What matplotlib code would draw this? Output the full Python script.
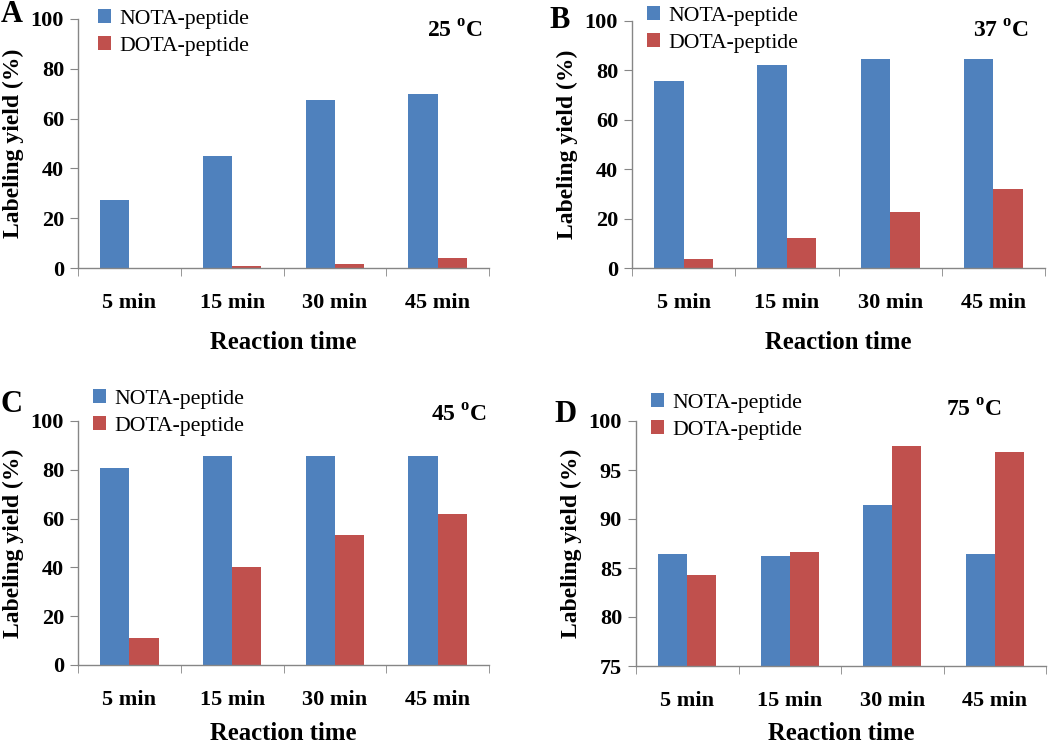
import numpy as np
import matplotlib.pyplot as plt

plt.rcParams['font.family'] = 'Liberation Serif'
plt.rcParams['mathtext.fontset'] = 'custom'
plt.rcParams['mathtext.rm'] = 'Liberation Serif:bold'

W, H = 1050, 746

times = ['5 min', '15 min', '30 min', '45 min']
temps = ['25', '37', '45', '75']
letters = ['A', 'B', 'C', 'D']

nota_25 = [27.3, 44.9, 67.6, 69.8]
dota_25 = [0.0, 0.7, 1.6, 3.9]
nota_37 = [75.7, 82.2, 84.8, 84.5]
dota_37 = [3.8, 12.1, 22.6, 32.1]
nota_45 = [80.7, 85.5, 85.8, 85.8]
dota_45 = [11.1, 40.2, 53.4, 62.0]
nota_75 = [86.4, 86.2, 91.45, 86.4]
dota_75 = [84.3, 86.6, 97.4, 96.85]

blue = '#4F81BD'
red = '#C0504D'
axis_grey = '#868686'


def px(x, y):
    return x / W, 1 - y / H


def rect(left, right, top, bottom):
    return [left / W, 1 - bottom / H, (right - left) / W, (bottom - top) / H]


panels = [
    # letter, temp, nota, dota, ylim, yticks, axes rect, letter xy, temp xy (right), legend xy, xlabel pad
    (letters[0], temps[0], nota_25, dota_25, (0, 100), np.arange(0, 101, 20),
     rect(78, 489, 19, 268), (1, 14), (483, 32), (98, 9), 13),
    (letters[1], temps[1], nota_37, dota_37, (0, 100), np.arange(0, 101, 20),
     rect(632, 1045, 21, 268), (549, 20), (1029, 32), (647, 6), 13),
    (letters[2], temps[2], nota_45, dota_45, (0, 100), np.arange(0, 101, 20),
     rect(78, 489, 421, 665), (1, 404), (487, 416), (93, 389), 9),
    (letters[3], temps[3], nota_75, dota_75, (75, 100), np.arange(75, 101, 5),
     rect(636, 1046, 421, 666), (554, 414), (1002, 411), (651, 393), 8),
]

fig = plt.figure(figsize=(W / 100, H / 100), dpi=100)

x = np.arange(len(times))
bw = 0.285

for letter, temp, nota, dota, ylim, yticks, r, lxy, txy, gxy, xpad in panels:
    ax = fig.add_axes(r)
    b1 = ax.bar(x - bw / 2, np.array(nota) - ylim[0], bw, bottom=ylim[0], color=blue,
                label='NOTA-peptide')
    b2 = ax.bar(x + bw / 2, np.array(dota) - ylim[0], bw, bottom=ylim[0], color=red,
                label='DOTA-peptide')
    ax.set_xlim(-0.5, len(times) - 0.5)
    ax.set_ylim(*ylim)
    ax.set_yticks(yticks)
    ax.set_yticklabels([str(v) for v in yticks], fontweight='bold', fontsize=16)
    ax.set_xticks(x)
    ax.set_xticklabels(times, fontweight='bold', fontsize=16)
    ax.set_xticks(np.arange(-0.5, len(times)), minor=True)
    ax.tick_params(axis='x', which='major', length=0, pad=18)
    ax.tick_params(axis='x', which='minor', length=6, color=axis_grey, direction='out')
    ax.tick_params(axis='y', length=6, color=axis_grey, direction='out', pad=4)
    for s in ['top', 'right']:
        ax.spines[s].set_visible(False)
    for s in ['left', 'bottom']:
        ax.spines[s].set_color(axis_grey)
        ax.spines[s].set_linewidth(1.0)
    ax.set_xlabel('Reaction time', fontweight='bold', fontsize=17.8, labelpad=xpad)
    ax.set_ylabel('Labeling yield (%)', fontweight='bold', fontsize=17, labelpad=5)

    fig.text(*px(*lxy), letter, fontweight='bold', fontsize=22, ha='left', va='center')
    fig.text(*px(*txy), temp + r' $^{\mathrm{o}}$C', fontweight='bold', fontsize=17,
             ha='right', va='center')
    ax.legend(handles=[b1, b2], loc='upper left', bbox_to_anchor=px(*gxy),
              bbox_transform=fig.transFigure, frameon=False, fontsize=15.7,
              handlelength=0.6, handleheight=0.6, handletextpad=0.4,
              labelspacing=0.35, borderpad=0, borderaxespad=0)

fig.savefig('out.png', dpi=100)
